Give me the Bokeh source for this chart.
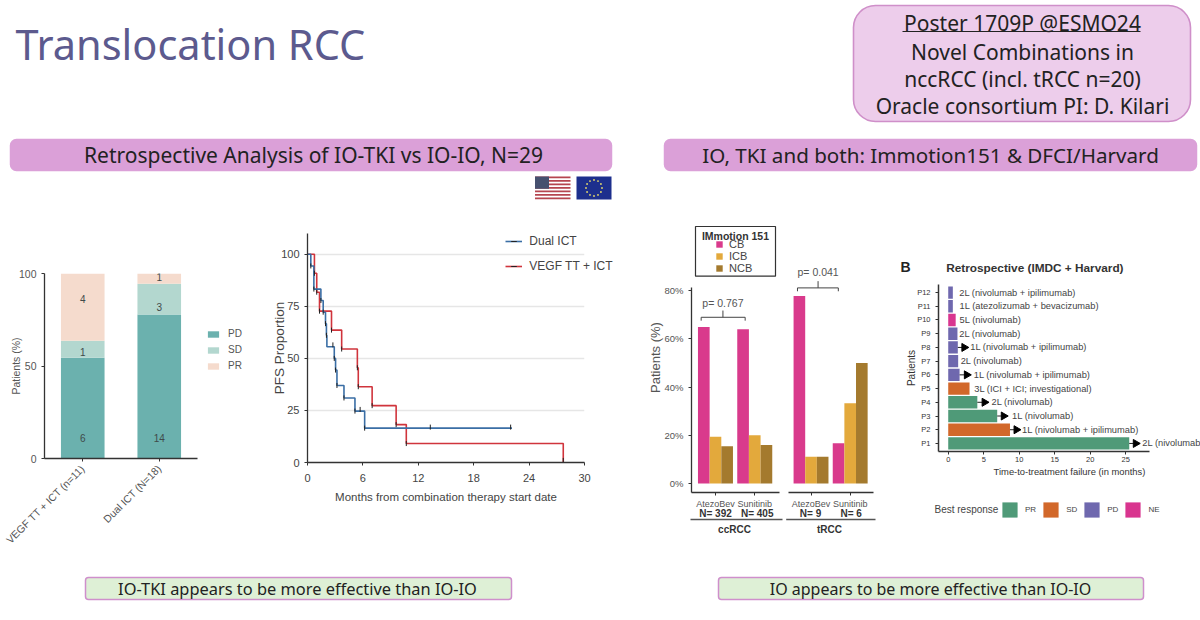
import math
from bokeh.plotting import figure
from bokeh.embed import file_html
from bokeh.resources import INLINE
from bokeh.core.properties import value
from bokeh.models import (Range1d, FactorRange, FixedTicker, Legend, LegendItem, PrintfTickFormatter)

# ---------- data ----------
STACK_CATS = ["VEGF TT + ICT (n=11)", "Dual ICT (N=18)"]
PD_PCT = [54.5, 77.8]
SD_PCT = [9.1, 16.7]
PR_PCT = [36.4, 5.5]
STACK_COUNTS = ["6", "1", "4", "14", "3", "1"]
STACK_COUNT_X = ["VEGF TT + ICT (n=11)"] * 3 + ["Dual ICT (N=18)"] * 3
STACK_COUNT_Y = [11, 57.5, 86, 11, 81.8, 98]

DUAL_X = [0, 0.36, 0.69, 1.45, 1.7, 1.95, 2.05, 2.1, 2.9, 3.04, 3.19, 3.95, 5.14, 6.19, 22.15]
DUAL_Y = [100, 94.4, 83.3, 77.8, 72.2, 66.7, 61.1, 55.6, 50, 44.4, 37, 31, 24.7, 16.5, 16.5]
VEGF_X = [0, 0.75, 1.0, 1.3, 2.6, 3.7, 5.4, 5.5, 7.0, 9.6, 10.7, 27.7]
VEGF_Y = [100, 90.9, 81.8, 72.7, 63.6, 54.5, 45.5, 36.4, 27.3, 18.2, 9.1, 0]
DUAL_CENS_X = [0.36, 0.69, 1.45, 1.7, 1.95, 2.05, 2.75, 2.9, 3.04, 3.19, 3.95, 5.14, 5.7, 6.19, 13.3, 22.0]
DUAL_CENS_Y = [94.4, 83.3, 77.8, 72.2, 66.7, 61.1, 56.5, 50, 44.4, 37, 31, 24.7, 25.5, 16.5, 17, 17]
VEGF_CENS_X = [0.75, 1.0, 1.3, 2.6, 3.7, 5.4, 5.5, 7.0, 9.6, 10.7, 27.7]
VEGF_CENS_Y = [90.9, 81.8, 72.7, 63.6, 54.5, 45.5, 36.4, 27.3, 18.2, 9.1, 1]

ARM_NAMES = ["AtezoBev", "Sunitinib"]
CC_N = ["N= 392", "N= 405"]
T_N = ["N= 9", "N= 6"]
CC_CB, CC_ICB, CC_NCB = [65, 64], [19.4, 20], [15.5, 16]
T_CB, T_ICB, T_NCB = [77.8, 16.7], [11.1, 33.3], [11.1, 50]

PATIENTS = ["P1", "P2", "P3", "P4", "P5", "P6", "P7", "P8", "P9", "P10", "P11", "P12"]
TTF = [25.5, 8.7, 6.9, 4.1, 3.0, 1.6, 1.4, 1.35, 1.3, 1.05, 0.65, 0.65]
RESP = ["PR", "SD", "PR", "PR", "SD", "PD", "PD", "PD", "PD", "NE", "PD", "PD"]
TX = ["2L (nivolumab", "1L (nivolumab + ipilimumab)", "1L (nivolumab)", "2L (nivolumab)",
      "3L (ICI + ICI; investigational)", "1L (nivolumab + ipilimumab)", "2L (nivolumab)",
      "1L (nivolumab + ipilimumab)", "2L (nivolumab)", "5L (nivolumab)",
      "1L (atezolizumab + bevacizumab)", "2L (nivolumab + ipilimumab)"]
TX_X = [27.35, 10.4, 9.0, 6.1, 3.67, 3.6, 1.75, 3.1, 1.55, 1.6, 1.6, 1.55]
ARROW_P = ["P1", "P2", "P3", "P4", "P6", "P8"]
ARROW_FROM = [25.5, 8.7, 6.9, 4.1, 1.6, 1.35]
ARROW_AT = [26.4, 9.6, 7.8, 5.1, 2.6, 2.25]

FONT = "Liberation Sans"
SLIDE = "Noto Sans"
INK = "#444444"


def panel(l, t, r, b, bl, br, bt, bb, **kw):
    p = figure(width=round(r - l + bl + br), height=round(b - t + bt + bb),
               frame_width=round(r - l), frame_height=round(b - t),
               min_border_left=bl, min_border_right=br, min_border_top=bt, min_border_bottom=bb,
               output_backend="svg", toolbar_location=None, **kw)
    p.styles = {"position": "absolute", "left": f"{round(l - bl)}px", "top": f"{round(t - bt)}px"}
    p.background_fill_alpha = 0
    p.border_fill_alpha = 0
    p.outline_line_color = None
    p.xgrid.visible = False
    p.ygrid.visible = False
    return p


def style_axis(ax, size, color=INK, line=1.3):
    ax.major_label_text_font = FONT
    ax.major_label_text_font_size = size
    ax.major_label_text_color = color
    ax.axis_line_color = "#333333"
    ax.axis_line_width = line
    ax.major_tick_line_color = "#333333"
    ax.major_tick_in = 0
    ax.major_tick_out = 3
    ax.minor_tick_line_color = None
    ax.axis_label_text_font = FONT
    ax.axis_label_text_font_style = "normal"
    ax.axis_label_text_color = color


# ---------- slide background ----------
bg = figure(width=1200, height=620, x_range=(0, 1200), y_range=(620, 0), x_axis_location=None,
            y_axis_location=None, min_border=0, output_backend="svg", toolbar_location=None)
bg.styles = {"position": "absolute", "left": "0px", "top": "0px"}
bg.grid.visible = False
bg.outline_line_color = None


def box(l, t, r, b, fill, line=None, radius=6, lw=1.5):
    bg.quad(left=[l], right=[r], top=[t], bottom=[b], fill_color=fill,
            line_color=line or fill, line_width=lw, border_radius=radius)


def txt(x, y, s, size, color="#222222", font=SLIDE, align="center", style="normal"):
    bg.text(x=[x], y=[y], text=[s], text_font=value(font), text_font_size=size, text_color=color,
            text_align=align, text_baseline="middle", text_font_style=style)


txt(15, 43, "Translocation RCC", "41.5px", "#5c5a8e", align="left")
box(853, 5, 1190, 121, "#edcdeb", "#cf8fc9", 22, 1.6)
for yy, s in zip([22, 51, 78, 105], ["Poster 1709P @ESMO24", "Novel Combinations in",
                                     "nccRCC (incl. tRCC n=20)", "Oracle consortium PI: D. Kilari"]):
    txt(1022, yy, s, "21px")
bg.segment(x0=[902], x1=[1140], y0=[31], y1=[31], line_color="#222222", line_width=1)

box(10, 139, 611, 170, "#dba0d8")
txt(313, 154, "Retrospective Analysis of IO-TKI vs IO-IO, N=29", "21px")
box(664, 139, 1196, 170, "#dba0d8")
txt(930, 154, "IO, TKI and both: Immotion151 & DFCI/Harvard", "20.6px")

box(85, 577, 511, 599, "#def0d6", "#cf8fcc", 3)
txt(297, 588, "IO-TKI appears to be more effective than IO-IO", "16.4px")
box(718, 577, 1143, 599, "#def0d6", "#cf8fcc", 3)
txt(930, 588, "IO appears to be more effective than IO-IO", "16px")

# flags
box(534.5, 176, 570, 198.7, "#ffffff", radius=0, lw=0)
for i in range(0, 13, 2):
    bg.quad(left=[534.5], right=[570], top=[176 + i * 1.746], bottom=[176 + (i + 1) * 1.746],
            fill_color="#b5454f", line_color=None)
bg.quad(left=[534.5], right=[548.5], top=[176], bottom=[188.2], fill_color="#46506f", line_color=None)
box(576, 176, 611, 199, "#1d2f8d", radius=0, lw=0)
bg.scatter(x=[593.5 + 8 * math.cos(i * math.pi / 6) for i in range(12)],
           y=[187.5 + 8 * math.sin(i * math.pi / 6) for i in range(12)],
           size=1.8, color="#e8dc6a", line_color=None)

# frame and title of the IMmotion legend, labels under the facets
bg.quad(left=[695], right=[775], top=[226], bottom=[275.7], fill_color="#ffffff",
        line_color="#333333", line_width=1.2)
txt(735, 235.5, "IMmotion 151", "10.5px", "#333333", FONT, style="bold")
bg.segment(x0=[690, 785.7], x1=[782, 875], y0=[519, 519], y1=[519, 519], line_color="#555555", line_width=1.3)
for xx, s in zip([715, 756.7, 810, 850.7], CC_N + T_N):
    txt(xx, 513, s, "10px", "#333333", FONT, style="bold")
txt(734, 529, "ccRCC", "10px", "#333333", FONT, style="bold")
txt(829, 529, "tRCC", "10px", "#333333", FONT, style="bold")
# heading of the swimmer plot and caption of its legend
txt(945.7, 267, "Retrospective (IMDC + Harvard)", "11.8px", "#333333", FONT, align="left", style="bold")
txt(905, 266, "B", "14px", "#222222", FONT, style="bold")
txt(934, 509, "Best response", "10px", "#444444", FONT, align="left")

# ---------- stacked bars ----------
L, T, R, B = 44, 272.7, 197, 457.5
p1 = panel(L, T, R, B, 70, 60, 12, 100, x_range=FactorRange(factors=STACK_CATS), y_range=Range1d(0, 100))
w = 0.57
bottoms2 = [a + b for a, b in zip(PD_PCT, SD_PCT)]
r_pd = p1.vbar(x=STACK_CATS, top=PD_PCT, bottom=0, width=w, color="#6bb1ae", line_color=None)
r_sd = p1.vbar(x=STACK_CATS, top=bottoms2, bottom=PD_PCT, width=w, color="#b3d7cf", line_color=None)
r_pr = p1.vbar(x=STACK_CATS, top=[b + c for b, c in zip(bottoms2, PR_PCT)], bottom=bottoms2, width=w,
               color="#f5dbcd", line_color=None)
p1.text(x=STACK_COUNT_X, y=STACK_COUNT_Y, text=STACK_COUNTS, text_font=value(FONT), text_font_size="10px",
        text_color="#3f4a4a", text_align="center", text_baseline="middle")
style_axis(p1.xaxis[0], "10.5px", "#555555")
style_axis(p1.yaxis[0], "10.5px", "#555555")
p1.xaxis[0].major_label_orientation = math.pi / 4
p1.yaxis[0].ticker = FixedTicker(ticks=[0, 50, 100])
p1.yaxis[0].axis_label = "Patients (%)"
p1.yaxis[0].axis_label_text_font_size = "10.5px"
p1.yaxis[0].axis_label_standoff = -6
leg1 = Legend(items=[LegendItem(label="PD", renderers=[r_pd]), LegendItem(label="SD", renderers=[r_sd]),
                     LegendItem(label="PR", renderers=[r_pr])],
              location=(9, 87), glyph_width=14, glyph_height=8, label_height=10, spacing=5, padding=0, margin=0,
              label_standoff=8, label_text_font=FONT, label_text_font_size="10px", label_text_color="#555555",
              background_fill_alpha=0, border_line_color=None)
p1.add_layout(leg1, "right")

# ---------- Kaplan-Meier ----------
L, T, R, B = 307, 233.3, 583.7, 462.3
p2 = panel(L, T, R, B, 70, 30, 8, 50, x_range=Range1d(0, 30), y_range=Range1d(0, 110))
p2.ygrid.visible = True
p2.ygrid.grid_line_color = "#e6e6e6"
p2.ygrid.grid_line_width = 1.5
style_axis(p2.xaxis[0], "11px", "#444444")
style_axis(p2.yaxis[0], "11px", "#444444")
p2.xaxis[0].ticker = FixedTicker(ticks=[0, 6, 12, 18, 24, 30])
p2.yaxis[0].ticker = FixedTicker(ticks=[0, 25, 50, 75, 100])
p2.xaxis[0].axis_label = "Months from combination therapy start date"
p2.yaxis[0].axis_label = "PFS Proportion"
p2.xaxis[0].axis_label_text_font_size = "11.5px"
p2.yaxis[0].axis_label_text_font_size = "13.5px"
p2.xaxis[0].major_label_standoff = 8
p2.xaxis[0].axis_label_standoff = 6
p2.yaxis[0].axis_label_standoff = -9
r_v = p2.step(x=VEGF_X, y=VEGF_Y, mode="after", line_color="#d0343c", line_width=1.6)
r_d = p2.step(x=DUAL_X, y=DUAL_Y, mode="after", line_color="#3a6ea5", line_width=1.6)
m_v = p2.scatter(x=VEGF_CENS_X, y=VEGF_CENS_Y, marker="dash", angle=math.pi / 2, size=5, line_color="#222222", line_width=1)
m_d = p2.scatter(x=DUAL_CENS_X, y=DUAL_CENS_Y, marker="dash", angle=math.pi / 2, size=5, line_color="#222222", line_width=1)
leg2 = Legend(items=[LegendItem(label="Dual ICT", renderers=[r_d, m_d]),
                     LegendItem(label="VEGF TT + ICT", renderers=[r_v, m_v])],
              location=(-78.7, 189), glyph_width=17, glyph_height=14, label_height=14, spacing=11, padding=0, margin=0,
              label_standoff=7, label_text_font=FONT, label_text_font_size="12px", label_text_color="#444444",
              background_fill_alpha=0, border_line_color=None)
p2.add_layout(leg2, "right")

# ---------- IMmotion facets ----------
T, B = 222, 491.7
YMIN, YMAX, YTOP = -3.74, 108.35, 81.4
BAR = 0.297
COLS = ["#d93a8c", "#e3a93c", "#a47a2e"]


def facet(l, r, xlo, xhi, bl, series, bracket, p_txt, p_y):
    p = panel(l, T, r, B, bl, 4, 4, 30, x_range=Range1d(xlo, xhi), y_range=Range1d(YMIN, YMAX))
    rends = []
    for off, vals, col in zip((-BAR, 0, BAR), series, COLS):
        rends.append(p.vbar(x=[i + off for i in range(2)], top=vals, bottom=0, width=BAR, color=col, line_color=None))
    style_axis(p.xaxis[0], "9px", "#555555")
    p.xaxis[0].ticker = FixedTicker(ticks=[0, 1])
    p.xaxis[0].major_label_overrides = {0: ARM_NAMES[0], 1: ARM_NAMES[1]}
    p.xaxis[0].major_label_standoff = 3
    x0, x1, xs, yb = bracket
    p.line(x=[x0, x0, x1, x1], y=[yb - 1.4, yb, yb, yb - 1.4], line_color="#444444", line_width=1)
    p.line(x=[xs, xs], y=[yb, yb + 2.8], line_color="#444444", line_width=1)
    p.text(x=[xs], y=[p_y], text=[p_txt], text_font=value(FONT), text_font_size="10.5px", text_color="#555555",
           text_align="center", text_baseline="middle")
    return p, rends


p3a, rends = facet(691.3, 779.5, -0.61, 1.63, 60, (CC_CB, CC_ICB, CC_NCB), (-0.364, 0.756, 0.19, 69), "p= 0.767", 75.1)
style_axis(p3a.yaxis[0], "9.5px", "#555555")
p3a.yaxis[0].ticker = FixedTicker(ticks=[0, 20, 40, 60, 80])
p3a.yaxis[0].formatter = PrintfTickFormatter(format="%d%%")
p3a.yaxis[0].bounds = (YMIN, YTOP)
p3a.yaxis[0].axis_label = "Patients (%)"
p3a.yaxis[0].axis_label_text_font_size = "13px"
p3a.yaxis[0].axis_label_standoff = -2
leg3 = Legend(items=[LegendItem(label=s, renderers=[r]) for s, r in zip(["CB", "ICB", "NCB"], rends)],
              location=(24, 218), glyph_width=8, glyph_height=8, label_height=8, spacing=-3, padding=0, margin=0,
              label_standoff=6, label_text_font=FONT, label_text_font_size="11px", label_text_color="#444444",
              background_fill_alpha=0, border_line_color=None)
p3a.add_layout(leg3, "center")

p3b, _ = facet(787.7, 873, -0.575, 1.595, 4, (T_CB, T_ICB, T_NCB), (-0.346, 0.697, 0.18, 81.2), "p= 0.041", 87.7)
p3b.yaxis[0].visible = False

# ---------- swimmer bars ----------
L, T, R, B = 938.3, 284.3, 1200, 451.7
X_LO = -1.37
p4 = panel(L, T, R, B, 50, 0, 4, 40, x_range=Range1d(X_LO, 35.54),
           y_range=FactorRange(factors=PATIENTS, range_padding=0.0145))
RESP_COLS = {"PR": "#4f9a78", "SD": "#d2682a", "PD": "#6f68ae", "NE": "#d9358f"}
for k, col in RESP_COLS.items():
    ys = [q for q, s in zip(PATIENTS, RESP) if s == k]
    xs = [t for t, s in zip(TTF, RESP) if s == k]
    p4.hbar(y=ys, right=xs, left=0, height=0.9, color=col, line_color=None)
p4.segment(x0=ARROW_FROM, x1=ARROW_AT, y0=ARROW_P, y1=ARROW_P, line_color="#222222", line_width=1)
p4.scatter(x=ARROW_AT, y=ARROW_P, marker="triangle", angle=-math.pi / 2, size=8, color="#000000")
p4.text(x=TX_X, y=PATIENTS, text=TX, text_font=value(FONT), text_font_size="9.3px", text_color="#444444",
        text_align="left", text_baseline="middle")
style_axis(p4.xaxis[0], "7.5px", "#333333", 1.5)
style_axis(p4.yaxis[0], "7.5px", "#333333", 1.5)
p4.xaxis[0].ticker = FixedTicker(ticks=[0, 5, 10, 15, 20, 25])
p4.xaxis[0].bounds = (X_LO, 28.3)
p4.xaxis[0].axis_label = "Time-to-treatment failure (in months)"
p4.xaxis[0].axis_label_text_font_size = "9.4px"
p4.xaxis[0].major_label_standoff = 2
p4.xaxis[0].axis_label_standoff = 1
p4.yaxis[0].axis_label = "Patients"
p4.yaxis[0].axis_label_text_font_size = "10px"
p4.yaxis[0].axis_label_standoff = -3

# legend strip of the swimmer plot (its key renderers lie outside the strip's range)
p5 = panel(998, 495, 1200, 525, 0, 0, 0, 0, x_range=Range1d(0, 1), y_range=Range1d(0, 1),
           x_axis_location=None, y_axis_location=None)
items5 = [LegendItem(label=k, renderers=[p5.hbar(y=[-9], right=[-8], left=[-9], height=1, color=c, line_color=None)])
          for k, c in RESP_COLS.items()]
leg5 = Legend(items=items5, location=(2, 6), orientation="horizontal",
              glyph_width=19, glyph_height=19, label_height=19, label_width=10, spacing=5, padding=0, margin=0, label_standoff=6,
              label_text_font=FONT, label_text_font_size="8px", label_text_color="#444444",
              background_fill_alpha=0, border_line_color=None)
p5.add_layout(leg5, "center")

open("out.html", "w").write(file_html([bg, p1, p2, p3a, p3b, p4, p5], INLINE))
